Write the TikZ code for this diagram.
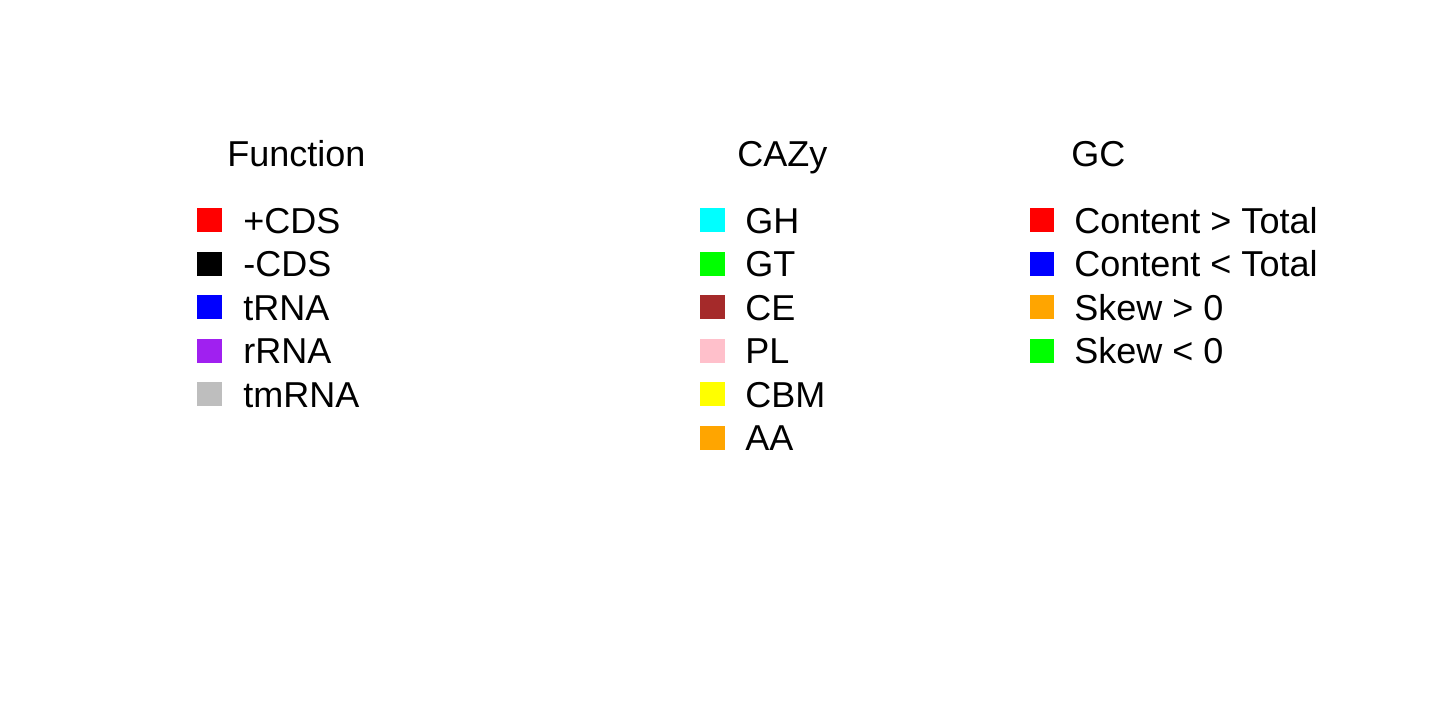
\documentclass[tikz,border=0pt]{standalone}
\usepackage{fontspec}
\setmainfont{Liberation Sans}
\definecolor{rpurple}{HTML}{A020F0}
\definecolor{rgray}{HTML}{BEBEBE}
\definecolor{rgreen}{HTML}{00FF00}
\definecolor{rbrown}{HTML}{A52A2A}
\definecolor{rpink}{HTML}{FFC0CB}
\definecolor{rorange}{HTML}{FFA500}
\definecolor{rcyan}{HTML}{00FFFF}
\definecolor{ryellow}{HTML}{FFFF00}
\begin{document}
\begin{tikzpicture}[x=0.5pt,y=-0.5pt,
  lbl/.style={anchor=base west,inner sep=0pt,font=\fontsize{18}{20}\selectfont},
  ttl/.style={anchor=base west,inner sep=0pt,font=\fontsize{18}{20}\selectfont},
  sq/.style={minimum width=12.25pt,minimum height=12pt,inner sep=0pt,draw=none}]
\useasboundingbox[fill=white] (0,0) rectangle (1440,720);
% Function
\node[ttl] (tf) at (227,166) {Function};
\foreach \n/\c/\t [count=\i from 0] in {a/red/+CDS,b/black/-CDS,c/blue/tRNA,d/rpurple/rRNA,e/rgray/tmRNA}{
  \node[sq,fill=\c] (fs\n) at (209.5,{220+43.5*\i}) {};
  \node[lbl] (fl\n) at (243,{233+43.5*\i}) {\t};
}
% CAZy
\node[ttl] (tc) at (737,166) {CAZy};
\foreach \n/\c/\t [count=\i from 0] in {a/rcyan/GH,b/rgreen/GT,c/rbrown/CE,d/rpink/PL,e/ryellow/CBM,f/rorange/AA}{
  \node[sq,fill=\c] (cs\n) at (712.5,{220+43.5*\i}) {};
  \node[lbl] (cl\n) at (745,{233+43.5*\i}) {\t};
}
% GC
\node[ttl] (tg) at (1071,166) {GC};
\foreach \n/\c/\t [count=\i from 0] in {a/red/Content > Total,b/blue/Content < Total,c/rorange/Skew > 0,d/rgreen/Skew < 0}{
  \node[sq,fill=\c] (gs\n) at (1042,{220+43.5*\i}) {};
  \node[lbl] (gl\n) at (1074,{233+43.5*\i}) {\t};
}
\end{tikzpicture}
\end{document}
